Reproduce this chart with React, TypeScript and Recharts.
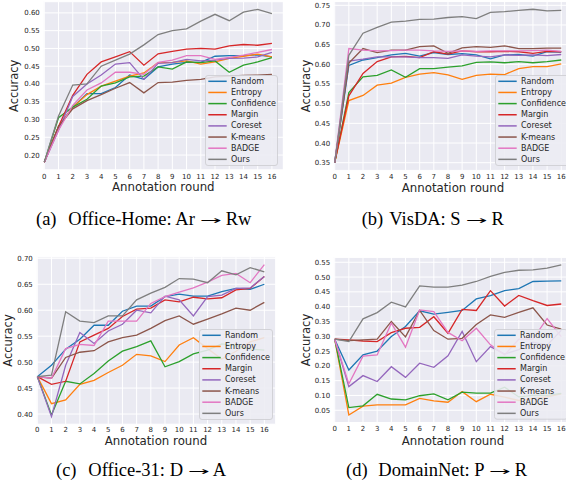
import React from 'react';
import { LineChart, Line, XAxis, YAxis, CartesianGrid, Legend, Label } from 'recharts';

const rounds = [0, 1, 2, 3, 4, 5, 6, 7, 8, 9, 10, 11, 12, 13, 14, 15, 16];
const seriesNames = ['Random', 'Entropy', 'Confidence', 'Margin', 'Coreset', 'K-means', 'BADGE', 'Ours'];
const seriesColors = ['#1f77b4', '#ff7f0e', '#2ca02c', '#d62728', '#9467bd', '#8c564b', '#e377c2', '#7f7f7f'];

// (a) Office-Home: Ar -> Rw
const ohRandom = [0.18, 0.28, 0.335, 0.373, 0.373, 0.39, 0.425, 0.413, 0.448, 0.456, 0.461, 0.461, 0.478, 0.48, 0.48, 0.482, 0.476];
const ohEntropy = [0.18, 0.28, 0.335, 0.37, 0.394, 0.408, 0.422, 0.431, 0.46, 0.461, 0.465, 0.456, 0.462, 0.472, 0.478, 0.484, 0.476];
const ohConfidence = [0.18, 0.305, 0.335, 0.357, 0.394, 0.403, 0.42, 0.422, 0.448, 0.442, 0.462, 0.46, 0.465, 0.433, 0.453, 0.462, 0.474];
const ohMargin = [0.18, 0.28, 0.368, 0.427, 0.462, 0.476, 0.491, 0.453, 0.485, 0.492, 0.498, 0.5, 0.498, 0.507, 0.511, 0.509, 0.514];
const ohCoreset = [0.18, 0.27, 0.365, 0.4, 0.425, 0.456, 0.46, 0.413, 0.458, 0.46, 0.469, 0.465, 0.467, 0.472, 0.473, 0.476, 0.489];
const ohKmeans = [0.18, 0.28, 0.33, 0.353, 0.37, 0.388, 0.404, 0.375, 0.404, 0.405, 0.41, 0.413, 0.42, 0.422, 0.424, 0.425, 0.427];
const ohBadge = [0.18, 0.27, 0.34, 0.383, 0.403, 0.433, 0.433, 0.427, 0.461, 0.467, 0.48, 0.48, 0.469, 0.475, 0.481, 0.489, 0.497];
const ohOurs = [0.18, 0.31, 0.397, 0.4, 0.45, 0.467, 0.484, 0.51, 0.539, 0.55, 0.555, 0.577, 0.596, 0.578, 0.602, 0.61, 0.598];
const ohTicks = [0.2, 0.25, 0.3, 0.35, 0.4, 0.45, 0.5, 0.55, 0.6];

// (b) VisDA: S -> R
const vdRandom = [0.35, 0.597, 0.611, 0.617, 0.624, 0.628, 0.621, 0.63, 0.625, 0.627, 0.624, 0.614, 0.624, 0.625, 0.621, 0.632, 0.631];
const vdEntropy = [0.35, 0.508, 0.521, 0.547, 0.552, 0.567, 0.575, 0.579, 0.573, 0.562, 0.572, 0.575, 0.574, 0.589, 0.594, 0.594, 0.601];
const vdConfidence = [0.35, 0.528, 0.568, 0.572, 0.586, 0.567, 0.589, 0.589, 0.593, 0.596, 0.605, 0.606, 0.604, 0.607, 0.604, 0.607, 0.611];
const vdMargin = [0.35, 0.52, 0.577, 0.607, 0.619, 0.62, 0.617, 0.632, 0.626, 0.634, 0.632, 0.632, 0.633, 0.632, 0.628, 0.633, 0.632];
const vdCoreset = [0.35, 0.608, 0.613, 0.619, 0.619, 0.619, 0.617, 0.617, 0.615, 0.624, 0.621, 0.619, 0.624, 0.623, 0.624, 0.622, 0.625];
const vdKmeans = [0.35, 0.603, 0.64, 0.63, 0.636, 0.636, 0.645, 0.647, 0.628, 0.642, 0.645, 0.643, 0.647, 0.64, 0.64, 0.641, 0.641];
const vdBadge = [0.35, 0.64, 0.636, 0.634, 0.635, 0.636, 0.636, 0.634, 0.633, 0.634, 0.633, 0.634, 0.634, 0.634, 0.635, 0.636, 0.633];
const vdOurs = [0.35, 0.623, 0.679, 0.694, 0.707, 0.71, 0.714, 0.715, 0.719, 0.721, 0.716, 0.732, 0.734, 0.737, 0.74, 0.736, 0.737];
const vdTicks = [0.35, 0.4, 0.45, 0.5, 0.55, 0.6, 0.65, 0.7, 0.75];

// (c) Office-31: D -> A
const o31Random = [0.472, 0.494, 0.525, 0.544, 0.571, 0.571, 0.598, 0.608, 0.608, 0.626, 0.631, 0.627, 0.627, 0.636, 0.642, 0.64, 0.65];
const o31Entropy = [0.472, 0.42, 0.427, 0.457, 0.465, 0.48, 0.494, 0.515, 0.512, 0.501, 0.533, 0.547, 0.526, 0.506, 0.521, 0.539, 0.547];
const o31Confidence = [0.472, 0.398, 0.463, 0.458, 0.478, 0.502, 0.521, 0.53, 0.541, 0.491, 0.501, 0.516, 0.523, 0.535, 0.532, 0.525, 0.523];
const o31Margin = [0.472, 0.457, 0.463, 0.539, 0.552, 0.565, 0.588, 0.602, 0.604, 0.62, 0.616, 0.625, 0.622, 0.624, 0.639, 0.642, 0.665];
const o31Coreset = [0.472, 0.395, 0.494, 0.557, 0.536, 0.56, 0.573, 0.6, 0.595, 0.627, 0.62, 0.589, 0.626, 0.629, 0.642, 0.643, 0.665];
const o31Kmeans = [0.472, 0.469, 0.509, 0.519, 0.522, 0.539, 0.547, 0.552, 0.565, 0.58, 0.589, 0.573, 0.583, 0.593, 0.604, 0.6, 0.615];
const o31Badge = [0.472, 0.469, 0.526, 0.534, 0.532, 0.579, 0.579, 0.579, 0.613, 0.626, 0.635, 0.643, 0.654, 0.667, 0.671, 0.653, 0.688];
const o31Ours = [0.472, 0.475, 0.597, 0.579, 0.576, 0.589, 0.589, 0.62, 0.633, 0.644, 0.661, 0.66, 0.653, 0.676, 0.668, 0.682, 0.674];
const o31Ticks = [0.4, 0.45, 0.5, 0.55, 0.6, 0.65, 0.7];

// (d) DomainNet: P -> R
const dnRandom = [0.29, 0.186, 0.237, 0.25, 0.299, 0.333, 0.386, 0.375, 0.381, 0.387, 0.426, 0.437, 0.454, 0.461, 0.485, 0.486, 0.487];
const dnEntropy = [0.29, 0.034, 0.064, 0.068, 0.068, 0.068, 0.09, 0.082, 0.077, 0.113, 0.079, 0.104, 0.094, 0.083, 0.09, 0.095, 0.105];
const dnConfidence = [0.29, 0.059, 0.065, 0.104, 0.088, 0.085, 0.099, 0.105, 0.085, 0.111, 0.108, 0.108, 0.128, 0.095, 0.1, 0.1, 0.107];
const dnMargin = [0.29, 0.288, 0.284, 0.282, 0.312, 0.327, 0.33, 0.366, 0.31, 0.391, 0.387, 0.454, 0.402, 0.438, 0.42, 0.404, 0.409];
const dnCoreset = [0.29, 0.13, 0.167, 0.147, 0.197, 0.161, 0.209, 0.195, 0.234, 0.316, 0.214, 0.265, 0.24, 0.255, 0.28, 0.27, 0.32];
const dnKmeans = [0.29, 0.285, 0.288, 0.29, 0.35, 0.298, 0.387, 0.319, 0.29, 0.293, 0.34, 0.372, 0.364, 0.381, 0.396, 0.338, 0.324];
const dnBadge = [0.29, 0.139, 0.233, 0.237, 0.344, 0.263, 0.389, 0.383, 0.313, 0.285, 0.327, 0.271, 0.237, 0.29, 0.29, 0.36, 0.299];
const dnOurs = [0.29, 0.282, 0.359, 0.38, 0.415, 0.399, 0.47, 0.466, 0.466, 0.473, 0.485, 0.502, 0.516, 0.523, 0.524, 0.53, 0.541];
const dnTicks = [0.05, 0.1, 0.15, 0.2, 0.25, 0.3, 0.35, 0.4, 0.45, 0.5, 0.55];

const buildData = (series: number[][]) =>
  rounds.map((r, i) => {
    const row: Record<string, number> = { round: r };
    series.forEach((s, k) => {
      row['s' + k] = s[i];
    });
    return row;
  });

const TICK_FONT = 'DejaVu Sans';
const TEXT_COLOR = '#262626';

type PanelCfg = {
  left: number;
  top: number;
  yAxisWidth: number;
  marginTop: number;
  plotW: number;
  plotH: number;
  yDomain: [number, number];
  yTicks: number[];
  data: Record<string, number>[];
  tickMargin: number;
  yLabel: { x: number; y: number };
  xLabel: { x: number; y: number };
  legend: { left: number; top: number; width: number; height: number };
};

const LegendBox = (props: any) => {
  const payload = [...(props.payload || [])].sort(
    (a: any, b: any) => seriesNames.indexOf(a.value) - seriesNames.indexOf(b.value)
  );
  const W = props.boxW;
  const H = props.boxH;
  return (
    <svg width={W} height={H} style={{ display: 'block' }}>
      <rect
        x={0.5}
        y={0.5}
        width={W - 1}
        height={H - 1}
        rx={2.5}
        fill="#ECECF3"
        fillOpacity={0.88}
        stroke="#cfcfd4"
        strokeWidth={0.9}
      />
      {payload.map((p: any, i: number) => {
        const cy = 6.3 + i * 11.15;
        return (
          <g key={p.value}>
            <line x1={3.3} x2={21.7} y1={cy} y2={cy} stroke={p.color} strokeWidth={1.5} />
            <text
              x={26}
              y={cy}
              dominantBaseline="central"
              fontSize={8}
              fontFamily={TICK_FONT}
              fill={TEXT_COLOR}
            >
              {p.value}
            </text>
          </g>
        );
      })}
    </svg>
  );
};

const Panel = ({ cfg }: { cfg: PanelCfg }) => {
  const width = cfg.yAxisWidth + cfg.plotW;
  const height = cfg.marginTop + cfg.plotH + 40;
  return (
    <div style={{ position: 'absolute', left: cfg.left, top: cfg.top }}>
      <LineChart
        width={width}
        height={height}
        data={cfg.data}
        margin={{ top: cfg.marginTop, right: 0, bottom: 0, left: 0 }}
      >
        <CartesianGrid fill="#EAEAF2" fillOpacity={1} stroke="#ffffff" strokeWidth={1} />
        <XAxis
          dataKey="round"
          type="number"
          domain={[-0.07, 16.8]}
          allowDataOverflow
          ticks={rounds}
          interval={0}
          tickLine={false}
          axisLine={false}
          tickSize={0}
          tickMargin={cfg.tickMargin}
          height={40}
          tick={{ fontSize: 7, fill: TEXT_COLOR, fontFamily: TICK_FONT }}
        >
          <Label
            content={() => (
              <text
                x={cfg.xLabel.x}
                y={cfg.xLabel.y}
                textAnchor="middle"
                fontSize={11.8}
                fill={TEXT_COLOR}
                fontFamily={TICK_FONT}
              >
                Annotation round
              </text>
            )}
          />
        </XAxis>
        <YAxis
          type="number"
          domain={cfg.yDomain}
          allowDataOverflow
          ticks={cfg.yTicks}
          interval={0}
          tickFormatter={(v: number) => v.toFixed(2)}
          width={cfg.yAxisWidth}
          tickLine={false}
          axisLine={false}
          tickSize={0}
          tickMargin={3.5}
          tick={{ fontSize: 7, fill: TEXT_COLOR, fontFamily: TICK_FONT }}
        >
          <Label
            content={() => (
              <text
                x={cfg.yLabel.x}
                y={cfg.yLabel.y}
                transform={`rotate(-90 ${cfg.yLabel.x} ${cfg.yLabel.y})`}
                textAnchor="middle"
                fontSize={11.5}
                fill={TEXT_COLOR}
                fontFamily={TICK_FONT}
              >
                Accuracy
              </text>
            )}
          />
        </YAxis>
        {seriesNames.map((name, k) => (
          <Line
            key={name}
            type="linear"
            dataKey={'s' + k}
            name={name}
            stroke={seriesColors[k]}
            strokeWidth={1.3}
            dot={false}
            activeDot={false}
            isAnimationActive={false}
          />
        ))}
        <Legend
          layout="vertical"
          align="center"
          verticalAlign="middle"
          wrapperStyle={{
            left: cfg.legend.left,
            top: cfg.legend.top,
            width: cfg.legend.width,
            height: cfg.legend.height,
          }}
          content={(p: any) => <LegendBox {...p} boxW={cfg.legend.width} boxH={cfg.legend.height} />}
        />
      </LineChart>
    </div>
  );
};

const panels: PanelCfg[] = [
  {
    left: 0,
    top: 0,
    yAxisWidth: 43.3,
    marginTop: 1.7,
    plotW: 240,
    plotH: 168.1,
    yDomain: [0.1585, 0.6315],
    yTicks: ohTicks,
    data: buildData([ohRandom, ohEntropy, ohConfidence, ohMargin, ohCoreset, ohKmeans, ohBadge, ohOurs]),
    tickMargin: 4.5,
    yLabel: { x: 18.5, y: 85.8 },
    xLabel: { x: 163.3, y: 191.5 },
    legend: { left: 205, top: 74.5, width: 73, height: 91 },
  },
  {
    left: 283,
    top: 0,
    yAxisWidth: 50.7,
    marginTop: 1.56,
    plotW: 238.9,
    plotH: 168.84,
    yDomain: [0.3305, 0.7595],
    yTicks: vdTicks,
    data: buildData([vdRandom, vdEntropy, vdConfidence, vdMargin, vdCoreset, vdKmeans, vdBadge, vdOurs]),
    tickMargin: 4,
    yLabel: { x: 26.7, y: 86 },
    xLabel: { x: 170, y: 192 },
    legend: { left: 212, top: 75, width: 74, height: 91 },
  },
  {
    left: 0,
    top: 245,
    yAxisWidth: 36.3,
    marginTop: 11.9,
    plotW: 239.4,
    plotH: 167.3,
    yDomain: [0.3804, 0.7027],
    yTicks: o31Ticks,
    data: buildData([o31Random, o31Entropy, o31Confidence, o31Margin, o31Coreset, o31Kmeans, o31Badge, o31Ours]),
    tickMargin: 3,
    yLabel: { x: 12.4, y: 95.5 },
    xLabel: { x: 156, y: 200.5 },
    legend: { left: 198.7, top: 84, width: 74, height: 91 },
  },
  {
    left: 283,
    top: 245,
    yAxisWidth: 50.7,
    marginTop: 12.4,
    plotW: 238.9,
    plotH: 165.1,
    yDomain: [0.0086, 0.5664],
    yTicks: dnTicks,
    data: buildData([dnRandom, dnEntropy, dnConfidence, dnMargin, dnCoreset, dnKmeans, dnBadge, dnOurs]),
    tickMargin: 3.5,
    yLabel: { x: 26.7, y: 95 },
    xLabel: { x: 170, y: 200.5 },
    legend: { left: 211, top: 84.3, width: 74, height: 90.7 },
  },
];

// caption pieces: tag, dataset label, source, target
const captions = [
  { tag: '(a)', name: 'Office-Home:', src: 'Ar', dst: 'Rw', tagX: 36, nameX: 68.3, y: 225 },
  { tag: '(b)', name: 'VisDA:', src: 'S', dst: 'R', tagX: 361.7, nameX: 389.3, y: 225 },
  { tag: '(c)', name: 'Office-31:', src: 'D', dst: 'A', tagX: 56, nameX: 88.3, y: 476 },
  { tag: '(d)', name: 'DomainNet:', src: 'P', dst: 'R', tagX: 346, nameX: 378.3, y: 476 },
];

export default function App() {
  return (
    <div
      style={{
        position: 'absolute',
        left: 0,
        top: 0,
        width: 566,
        height: 486,
        overflow: 'hidden',
        background: '#ffffff',
      }}
    >
      <svg width={566} height={486} style={{ position: 'absolute', left: 0, top: 0 }}>
        {captions.map((c) => (
          <g key={c.tag} fontFamily="'Liberation Serif', 'DejaVu Serif', serif" fontSize={18.5} fill="#000">
            <text x={c.tagX} y={c.y}>{c.tag}</text>
            <text x={c.nameX} y={c.y}>
              {c.name + ' ' + c.src + ' '}
              <tspan
                fontFamily="'DejaVu Sans ExtraLight', 'DejaVu Sans', sans-serif"
                fontSize={11}
                dy={-0.6}
                textLength={21.6}
                lengthAdjust="spacingAndGlyphs"
              >
                {'\u2192'}
              </tspan>
              <tspan dy={0.6}>{' ' + c.dst}</tspan>
            </text>
          </g>
        ))}
      </svg>
      {panels.map((p, i) => (
        <Panel key={i} cfg={p} />
      ))}
    </div>
  );
}
